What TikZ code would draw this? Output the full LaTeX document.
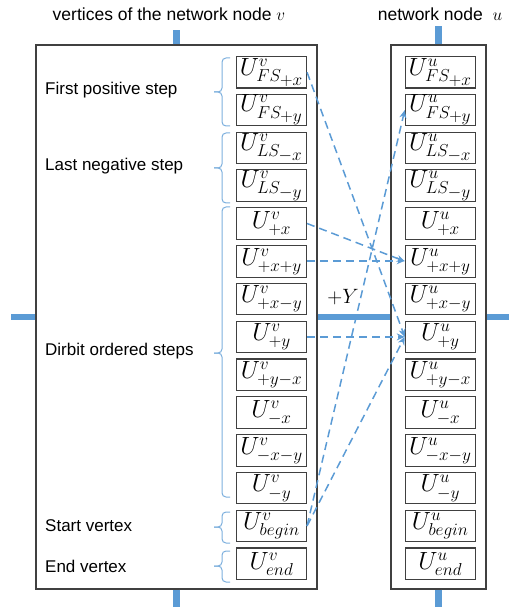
\documentclass[tikz,border=0pt]{standalone}
\usepackage{fontspec}
\setmainfont{Liberation Sans}
\usetikzlibrary{arrows.meta}
\definecolor{lb}{HTML}{5B9BD5}
\definecolor{bx}{HTML}{404040}
\begin{document}
\begin{tikzpicture}[x=1pt,y=-1pt,
  cell/.style={draw=bx, line width=1.1pt, minimum width=70pt, minimum height=31.5pt, inner sep=0pt, font=\fontsize{23}{23}\selectfont},
  bigbox/.style={draw=bx, line width=1.1pt, inner sep=0pt},
  thick blue/.style={draw=lb, line width=6pt},
  stub/.style={draw=lb, line width=7pt},
  brc/.style={draw=lb!80, line width=1pt, rounded corners=4pt},
  arr/.style={draw=lb, line width=1.5pt, dash pattern=on 8pt off 5pt, -{Stealth[length=8pt,width=7pt]}},
  lbl/.style={anchor=west, font=\fontsize{17}{17}\selectfont, inner sep=0pt},
  ttl/.style={font=\fontsize{17.5}{17.5}\selectfont, inner sep=0pt}]
\useasboundingbox (0,0) rectangle (508,609);
% big boxes
\node[bigbox, minimum width=281pt, minimum height=544pt] (V) at (176.5,317) {};
\node[bigbox, minimum width=95pt, minimum height=544pt] (U) at (438.5,317) {};
% thick lines
\draw[thick blue] (V.west) -- ++(-24,0);
\draw[thick blue] (V.east) -- (U.west);
\draw[thick blue] (U.east) -- ++(22,0);
\draw[stub] (V.north) -- ++(0,-14);
\draw[stub] (U.north) -- ++(0,-18);
\draw[stub] (V.south) -- ++(0,17);
\draw[stub] (U.south) -- ++(0,17);
% cells
\foreach \i/\s in {0/{FS_{\scriptstyle +x}},1/{FS_{\scriptstyle +y}},2/{LS_{\scriptstyle -x}},3/{LS_{\scriptstyle -y}},4/{+x},5/{+x+y},6/{+x-y},7/{+y},8/{+y-x},9/{-x},10/{-x-y},11/{-y},12/{begin},13/{end}}{
  \node[cell] (lv\i) at (271.5,72.3+37.8*\i) {$U^{v}_{\s}$};
  \node[cell] (ru\i) at (440.3,72.3+37.8*\i) {$U^{u}_{\s}$};
}
% titles
\node[ttl] (t1) at (169,14) {vertices of the network node $v$};
\node[ttl] (t2) at (440,14) {network node\ \ $u$};
% labels
\node[lbl] (l1) at (45,90) {First positive step};
\node[lbl] (l2) at (45,166) {Last negative step};
\node[lbl] (l3) at (45,351) {Dirbit ordered steps};
\node[lbl] (l4) at (45,526) {Start vertex};
\node[lbl] (l5) at (45,566) {End vertex};
\node[font=\fontsize{22}{22}\selectfont] (py) at (343,297) {$+Y$};
% braces
\foreach \t/\m/\b in {58/92/126,133/168/203,207/353/497,512/527/543,551/566/582}{
  \draw[brc] (230,\t) -- (222,\t) -- (222,\m) -- (214,\m);
  \draw[brc] (214,\m) -- (222,\m) -- (222,\b) -- (230,\b);
}
% arrows
\draw[arr] (lv0.east) -- (ru7.west);
\draw[arr] (lv4.east) -- (ru5.west);
\draw[arr] ([yshift=0.55pt]lv5.east) -- ([yshift=0.55pt]ru5.west);
\draw[arr] (lv7.east) -- (ru7.west);
\draw[arr] (lv12.east) -- (ru1.west);
\draw[arr] (lv12.east) -- (ru7.west);
\end{tikzpicture}
\end{document}
